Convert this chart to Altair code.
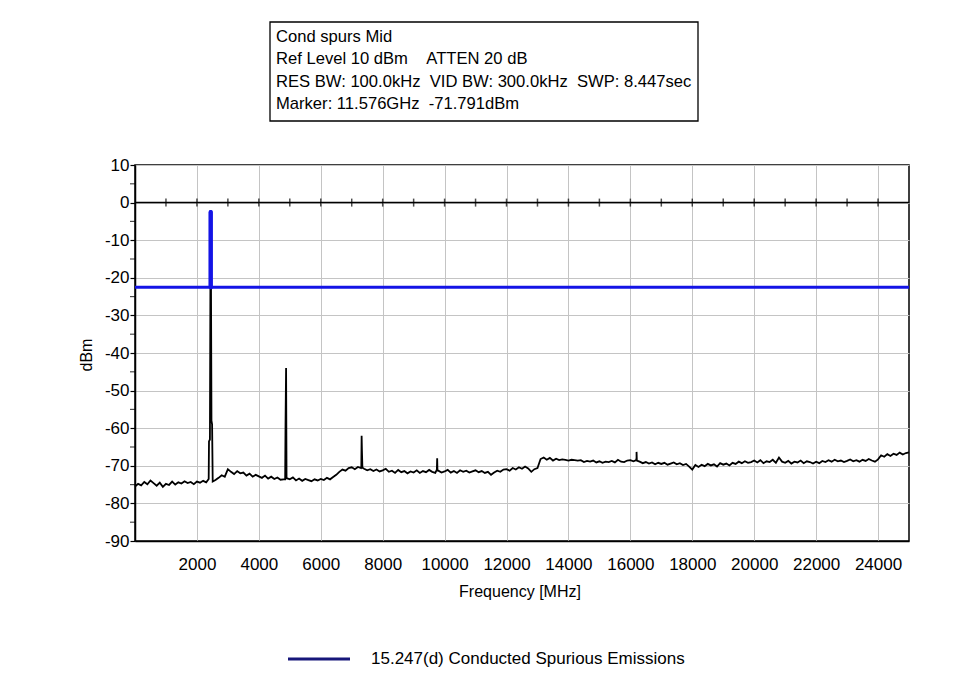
import altair as alt
import pandas as pd

# ---------------- data ----------------
SWEEP_START_MHZ = 0
SWEEP_STEP_MHZ = 100
# noise floor readings every 100 MHz (None = replaced by spur detail points)
noise_levels = [
    -75.5, -74.8, -75.2, -74.3, -74.9, -73.9, -74.6, -75.3, -74.5, -75.6,   # 0-900
    -74.8, -75.1, -74.2, -75.0, -74.4, -74.7, -74.1, -74.6, -74.3, -74.9,   # 1000-1900
    -74.2, -74.5, -74.0, -74.4, None, None, -73.8, -73.2, -72.5, -72.9,     # 2000-2900
    -70.9, -71.6, -72.2, -71.4, -72.0, -71.8, -72.6, -72.1, -72.9, -72.4,   # 3000-3900
    -72.8, -73.2, -72.6, -73.4, -72.9, -73.5, -73.1, -73.7, -73.6, -73.3,   # 4000-4900
    -73.6, -73.1, -73.9, -73.4, -74.0, -73.5, -73.8, -74.1, -73.6, -73.9,   # 5000-5900
    -73.5, -73.8, -73.2, -73.6, -73.0, -72.4, -71.6, -71.0, -71.3, -70.6,   # 6000-6900
    -70.4, -70.9, -70.3, -70.6, -70.8, -71.2, -70.9, -71.4, -71.0, -71.5,   # 7000-7900
    -71.2, -70.8, -71.6, -71.3, -71.9, -71.1, -71.7, -71.4, -72.0, -71.5,   # 8000-8900
    -71.8, -71.2, -71.9, -71.4, -71.7, -71.1, -71.6, -71.9, -71.3, -71.8,   # 9000-9900
    -71.5, -71.1, -71.8, -71.4, -71.9, -71.2, -71.6, -71.3, -71.8, -71.5,   # 10000-10900
    -71.2, -71.7, -71.4, -71.9, -71.6, -72.4, -71.8, -71.3, -71.6, -71.0,   # 11000-11900
    -70.9, -71.3, -70.6, -71.0, -70.4, -70.8, -70.2, -70.7, -71.6, -70.9,   # 12000-12900
    -70.6, -68.2, -67.8, -68.4, -67.9, -68.6, -68.1, -68.5, -68.3, -68.4,   # 13000-13900
    -68.6, -68.4, -68.5, -68.6, -68.5, -69.0, -68.7, -68.9, -68.6, -69.1,   # 14000-14900
    -68.8, -69.2, -68.9, -69.0, -68.7, -69.1, -68.4, -68.9, -69.0, -68.6,   # 15000-15900
    -68.5, -68.8, -67.8, -68.9, -69.3, -69.0, -69.4, -69.1, -69.6, -69.2,   # 16000-16900
    -69.5, -69.2, -69.7, -69.4, -69.1, -69.6, -69.3, -69.8, -69.5, -70.2,   # 17000-17900
    -71.0, -69.8, -70.3, -69.7, -70.1, -69.5, -69.9, -69.6, -70.2, -69.3,   # 18000-18900
    -69.7, -69.4, -69.9, -69.2, -69.5, -68.9, -69.3, -68.8, -69.2, -69.0,   # 19000-19900
    -68.6, -69.1, -68.5, -69.3, -68.8, -69.0, -68.4, -69.2, -67.8, -68.9,   # 20000-20900
    -69.2, -68.7, -69.4, -68.9, -69.1, -68.6, -69.3, -68.8, -69.0, -69.4,   # 21000-21900
    -68.9, -69.3, -68.7, -69.0, -68.5, -68.9, -68.4, -68.8, -68.6, -69.0,   # 22000-22900
    -68.7, -68.3, -68.8, -68.5, -68.9, -68.4, -68.7, -68.2, -68.6, -68.9,   # 23000-23900
    -68.3, -67.2, -67.6, -66.9, -67.4, -66.8, -67.1, -66.5, -67.0, -66.6,   # 24000-24900
    -66.4,                                                                  # 25000
]
# detail points of the carrier and the spurs
spur_freqs = [2380, 2390, 2420, 2435, 2440, 2450, 2455, 2470, 2490, 2510,
              4850, 4862, 4880, 4895,
              7310, 7320, 7330, 7345,
              9750, 9760, 9770,
              16190, 16200, 16210]
spur_levels = [-73.5, -63.5, -63.0, -23.0, -2.5, -2.5, -23.0, -58.0, -59.0, -74.2,
               -73.6, -59.0, -44.0, -73.2,
               -70.2, -62.0, -66.0, -70.5,
               -71.0, -68.0, -71.3,
               -68.5, -66.3, -68.6]
limit_dbm = -22.5
limit_name = "15.247(d) Conducted Spurious Emissions"
x_tick_values = [2000, 4000, 6000, 8000, 10000, 12000, 14000, 16000, 18000,
                 20000, 22000, 24000]
y_tick_values = [-90, -80, -70, -60, -50, -40, -30, -20, -10, 0, 10]
y_minor_ticks = [-85, -75, -65, -55, -45, -35, -25, -15, -5, 5]
zero_line_ticks = [1000, 2000, 3000, 4000, 5000, 6000, 7000, 8000, 9000, 10000,
                   11000, 12000, 13000, 14000, 15000, 16000, 17000, 18000,
                   19000, 20000, 21000, 22000, 23000, 24000]
NB = "\u00a0"
info_lines = [
    "Cond spurs Mid",
    f"Ref Level 10 dBm{NB}{NB}{NB}{NB}ATTEN 20 dB",
    f"RES BW: 100.0kHz{NB}{NB}VID BW: 300.0kHz{NB}{NB}SWP: 8.447sec",
    f"Marker: 11.576GHz{NB}{NB}-71.791dBm",
]

# ---------------- table ----------------
rows = []
for i, v in enumerate(noise_levels):
    if v is not None:
        rows.append((SWEEP_START_MHZ + i * SWEEP_STEP_MHZ, v))
rows += list(zip(spur_freqs, spur_levels))
trace = pd.DataFrame(rows, columns=["freq", "level"]).sort_values("freq")

FONT = "Liberation Sans"
BLUE = "#1414e6"
NAVY = "#16167a"

x_scale = alt.Scale(domain=[0, 25000], nice=False, zero=False)
y_scale = alt.Scale(domain=[-90, 10], nice=False)

x_axis = alt.Axis(values=x_tick_values, title=None, ticks=False,
                  labelExpr="toString(datum.value)",
                  labelPadding=15, grid=True, labelFontSize=17,
                  labelFont=FONT, labelColor="black",
                  domainColor="black", domainWidth=1.5,
                  gridColor="#c4c4c4", labelFlush=False,
                  labelOverlap=False)
y_axis = alt.Axis(values=y_tick_values, title=None,
                  labelExpr="toString(datum.value)",
                  tickSize=5, tickColor="black", tickWidth=1.2,
                  labelPadding=1, labelFontSize=17, labelFont=FONT,
                  labelColor="black", domainColor="black",
                  domainWidth=1.5, grid=True, gridColor="#c4c4c4",
                  labelFlush=False, labelOverlap=False)


def X(field):
    return alt.X(field, scale=x_scale, axis=x_axis)


def Y(field):
    return alt.Y(field, scale=y_scale, axis=y_axis)


one = pd.DataFrame({"a": [0]})
zero_df = pd.DataFrame({"y": [0]})
limit_df = pd.DataFrame({"y": [limit_dbm]})

trace_layer = alt.Chart(trace).mark_line(color="black", strokeWidth=1.8).encode(
    x=X("freq:Q"), y=Y("level:Q"))

minor_ticks = alt.Chart(pd.DataFrame({"m": y_minor_ticks})).mark_tick(
    orient="horizontal", size=5, thickness=1.2, color="black").encode(
    y=Y("m:Q"), x=alt.value(-2.5))

zero_rule = alt.Chart(zero_df).mark_rule(color="black", strokeWidth=1.5).encode(
    y=Y("y:Q"))

zero_ticks = alt.Chart(pd.DataFrame({"f": zero_line_ticks, "y": 0})).mark_tick(
    orient="vertical", size=8, thickness=1.5, color="black").encode(
    x=X("f:Q"), y=Y("y:Q"))

limit_rule = alt.Chart(limit_df).mark_rule(color=BLUE, strokeWidth=3).encode(
    y=Y("y:Q"))

over_limit = alt.Chart(trace).transform_filter(
    f"datum.level > {limit_dbm}").transform_calculate(
    lim=str(limit_dbm)).mark_rule(color=BLUE, strokeWidth=4,
                                  strokeCap="round").encode(
    x=X("freq:Q"), y=Y("level:Q"), y2="lim:Q")

box = alt.Chart(one).mark_rect(fill="white", stroke="black", strokeWidth=1.3).encode(
    x=alt.value(135), x2=alt.value(563), y=alt.value(-143), y2=alt.value(-44))

info_layers = []
for i, line in enumerate(info_lines):
    info_layers.append(
        alt.Chart(one).mark_text(text=line, align="left", baseline="middle",
                                 fontSize=16.6, font=FONT, color="black").encode(
            x=alt.value(141), y=alt.value(-128 + i * 22.3)))

legend_line = alt.Chart(one).mark_rule(color=NAVY, strokeWidth=3).encode(
    x=alt.value(153), x2=alt.value(215), y=alt.value(494))
legend_text = alt.Chart(one).mark_text(text=limit_name, align="left",
                                       baseline="middle", fontSize=17,
                                       font=FONT, color="black").encode(
    x=alt.value(236), y=alt.value(494))

x_title = alt.Chart(one).mark_text(text="Frequency [MHz]", align="center",
                                   baseline="middle", fontSize=16, font=FONT,
                                   color="black").encode(
    x=alt.value(385), y=alt.value(427))
y_title = alt.Chart(one).mark_text(text="dBm", align="center", baseline="middle",
                                   angle=270, fontSize=16, font=FONT,
                                   color="black").encode(
    x=alt.value(-48), y=alt.value(190))

chart = alt.layer(
    trace_layer, minor_ticks, zero_rule, zero_ticks, limit_rule, over_limit,
    box, *info_layers, legend_line, legend_text, x_title, y_title
).properties(
    width=774, height=376,
    autosize=alt.AutoSizeParams(type="none"),
    padding={"left": 127, "top": 157, "right": 30, "bottom": 130},
    background="white",
).configure_view(stroke="black", strokeWidth=1.5)

chart.save("out.html", embed_options={"renderer": "svg", "actions": False})
